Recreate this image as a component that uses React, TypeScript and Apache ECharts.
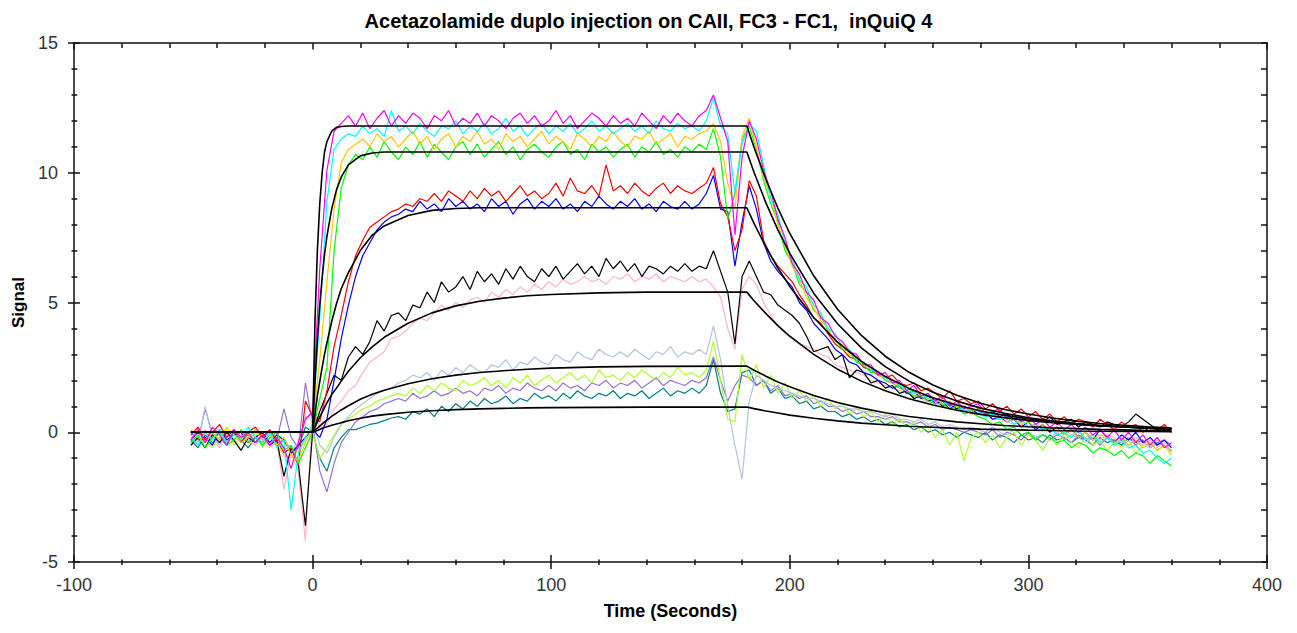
import React, { useEffect, useRef } from 'react';
import * as echarts from 'echarts';

const TITLE = 'Acetazolamide duplo injection on CAII, FC3 - FC1,  inQuiQ 4';

// sensorgram samples: every 3 s from -51 s to 360 s (138 points)
const traceTimes = Array.from({ length: 138 }, (_, i) => -51 + 3 * i);

// rows of 10 samples: -51..-24 | -21..6 | 9..36 | 39..66 | 69..96 | 99..126 | 129..156 | 159..186 | 189..216 | 219..246 | 249..276 | 279..306 | 309..336 | 339..360
const magenta = [
  -0.3, 0.1, -0.4, 0.2, -0.1, -0.5, 0.1, -0.2, 0.0, -0.4,
  -0.1, -0.5, -0.2, -0.6, -1.4, -0.4, 0.5, 0.8, 6.3, 10.1,
  11.6, 11.9, 12.2, 11.8, 12.3, 11.7, 12.1, 12.4, 11.8, 12.2,
  11.9, 12.3, 12.1, 11.7, 12.2, 12.0, 12.4, 11.8, 12.1, 11.9,
  12.3, 11.8, 12.2, 12.0, 11.7, 12.1, 12.3, 11.9, 12.2, 11.8,
  12.0, 12.4, 11.9, 12.2, 11.7, 12.0, 12.3, 12.1, 11.8, 12.2,
  11.9, 12.1, 11.8, 12.3, 12.0, 11.7, 12.2, 11.9, 12.3, 12.0,
  11.8, 12.2, 12.4, 13.0, 12.1, 11.2, 7.6, 10.6, 12.0, 11.3,
  10.1, 9.3, 8.2, 7.5, 6.5, 6.1, 5.4, 5.1, 4.4, 4.2,
  3.7, 3.5, 3.1, 3.0, 2.6, 2.6, 2.2, 2.3, 1.9, 2.0,
  1.6, 1.8, 1.4, 1.5, 1.2, 1.4, 1.0, 1.2, 0.9, 1.0,
  1.1, 0.7, 0.8, 0.9, 0.5, 0.7, 0.4, 0.6, 0.3, 0.5,
  0.2, 0.4, 0.1, 0.3, 0.0, 0.2, -0.1, 0.1, -0.2, 0.1,
  -0.3, 0.0, -0.4, -0.1, -0.5, -0.2, -0.6, -0.4,
];

const cyan = [
  -0.2, -0.5, 0.0, -0.3, 0.1, -0.4, -0.1, -0.3, 0.2, -0.2,
  -0.4, 0.0, -0.6, -0.3, -3.0, -0.8, -0.2, 0.3, 4.4, 8.9,
  10.9, 11.3, 11.5, 11.4, 11.8, 11.5, 11.7, 11.4, 12.4, 11.6,
  11.8, 11.5, 11.9, 11.6, 11.4, 11.8, 11.7, 12.0, 11.5, 11.8,
  11.6, 11.9, 11.5, 11.7, 12.1, 11.6, 11.8, 11.4, 11.7, 11.9,
  11.5, 11.8, 11.6, 11.9, 11.5, 11.7, 12.0, 11.6, 11.8, 11.5,
  11.7, 11.9, 11.6, 11.8, 11.5, 12.0, 11.7, 11.6, 11.9, 11.7,
  11.8, 11.6, 12.0, 12.9, 11.8, 11.5, 9.2, 11.1, 11.9, 11.6,
  10.3, 9.0, 8.4, 7.3, 6.7, 5.9, 5.6, 4.9, 4.6, 4.0,
  3.8, 3.3, 3.2, 2.8, 2.7, 2.4, 2.3, 2.1, 2.0, 1.8,
  1.7, 1.5, 1.5, 1.3, 1.2, 1.2, 1.0, 1.1, 0.8, 0.9,
  0.8, 0.6, 0.7, 0.5, 0.6, 0.3, 0.5, 0.2, 0.3, 0.1,
  0.2, -0.1, 0.0, -0.2, 0.1, -0.3, -0.1, -0.4, -0.2, -0.5,
  -0.3, -0.6, -0.5, -0.8, -0.7, -1.0, -1.2, -1.0,
];

const yellow = [
  0.1, -0.2, -0.4, 0.0, -0.3, 0.2, -0.1, -0.4, -0.2, 0.1,
  -0.3, -0.1, -0.5, -0.2, -0.9, -1.1, -0.4, 0.2, 2.8, 5.8,
  8.6, 10.4, 10.9, 11.1, 11.3, 11.0, 11.5, 11.2, 11.4, 11.0,
  11.3, 11.6, 11.1, 11.4, 10.9, 11.3, 11.5, 11.0, 11.4, 11.2,
  11.6, 11.1, 11.3, 10.9, 11.5, 11.2, 11.4, 11.0, 11.3, 11.6,
  11.1, 11.4, 11.2, 10.9, 11.5, 11.3, 11.0, 11.4, 11.2, 11.6,
  11.2, 11.0, 11.4, 11.3, 11.6, 11.1, 11.3, 11.5, 11.0, 11.4,
  11.3, 11.5, 11.6, 11.9, 11.2, 9.6, 8.6, 11.4, 12.1, 11.0,
  9.8, 9.1, 8.0, 7.2, 6.4, 5.9, 5.2, 4.8, 4.3, 4.0,
  3.5, 3.4, 3.0, 2.9, 2.6, 2.5, 2.2, 2.1, 1.9, 1.8,
  1.6, 1.6, 1.4, 1.3, 1.3, 1.1, 1.2, 1.0, 1.0, 0.8,
  0.9, 0.7, 0.6, 0.7, 0.4, 0.5, 0.3, 0.4, 0.2, 0.3,
  0.1, 0.2, -0.1, 0.1, -0.2, 0.0, -0.3, -0.1, -0.2, -0.4,
  -0.2, -0.5, -0.3, -0.6, -0.4, -0.7, -0.5, -0.8,
];

const green = [
  -0.4, -0.1, -0.6, -0.2, 0.0, -0.5, -0.3, 0.1, -0.4, -0.2,
  -0.5, -0.2, 0.0, -0.7, -0.5, -1.2, -0.6, 0.0, 1.3, 2.5,
  7.0, 9.4, 10.3, 10.7, 10.5, 11.0, 10.6, 11.2, 10.8, 10.5,
  11.0, 10.7, 11.2, 10.6, 11.1, 10.8, 10.5, 11.0, 11.2, 10.7,
  11.1, 10.6, 10.9, 11.2, 10.7, 11.0, 10.5, 10.9, 11.1, 10.8,
  10.6, 11.0, 11.2, 10.7, 10.9, 10.5, 11.1, 10.8, 11.0, 10.6,
  10.9, 11.1, 10.6, 11.0, 10.8, 11.2, 10.7, 10.9, 10.6, 11.0,
  10.8, 11.1, 10.9, 11.7, 10.6, 8.2, 9.2, 11.3, 11.8, 10.9,
  9.7, 8.8, 8.1, 7.0, 6.5, 5.7, 5.4, 4.7, 4.5, 3.9,
  3.6, 3.2, 3.1, 2.7, 2.6, 2.3, 2.3, 2.0, 1.9, 1.7,
  1.6, 1.4, 1.4, 1.2, 1.1, 1.1, 0.9, 1.0, 0.7, 0.8,
  0.6, 0.5, 0.3, 0.4, 0.1, 0.2, -0.1, 0.0, -0.3, -0.1,
  -0.2, -0.4, -0.3, -0.6, -0.4, -0.5, -0.8, -0.6, -0.7, -0.9,
  -0.7, -1.0, -0.8, -0.9, -1.2, -0.9, -1.1, -1.3,
];

const red = [
  -0.1, 0.2, -0.3, 0.0, 0.3, -0.2, 0.1, -0.4, 0.0, 0.2,
  -0.2, 0.1, -0.3, -0.8, -0.6, -1.3, 1.2, 0.6, 0.4, 1.6,
  3.3, 4.5, 5.8, 6.8, 7.4, 7.9, 8.1, 8.3, 8.5, 8.6,
  8.8, 8.7, 9.0, 8.9, 9.2, 8.9, 9.3, 9.1, 8.9, 9.3,
  9.0, 9.4, 9.1, 9.3, 8.9, 9.2, 9.5, 9.1, 9.3, 9.0,
  9.2, 9.6, 9.1, 9.8, 9.3, 9.2, 9.5, 9.1, 10.3, 9.3,
  9.5, 9.2, 9.6, 9.3, 9.1, 9.4, 9.6, 9.2, 9.5, 9.3,
  9.2, 9.4, 9.6, 10.2, 8.8, 8.3, 7.0, 7.8, 9.7, 9.1,
  7.4, 6.8, 6.4, 6.1, 5.8, 5.3, 4.9, 4.4, 4.2, 3.8,
  3.4, 3.2, 2.9, 2.8, 2.5, 2.4, 2.2, 2.1, 2.2, 1.9,
  1.8, 1.9, 1.6, 1.7, 1.5, 1.3, 1.6, 1.2, 1.3, 1.1,
  1.2, 0.9, 1.1, 0.8, 1.0, 0.7, 0.9, 0.6, 0.8, 0.5,
  0.7, 0.4, 0.6, 0.3, 0.5, 0.4, 0.2, 0.5, 0.3, 0.1,
  0.4, 0.2, 0.3, 0.0, 0.2, 0.1, 0.3, 0.0,
];

const blue = [
  -0.3, 0.0, -0.2, -0.5, 0.1, -0.3, -0.1, 0.0, -0.4, -0.2,
  0.0, -0.4, -0.1, -0.3, -0.8, -0.5, -0.2, 0.1, -0.2, 0.5,
  2.0, 3.6, 4.9, 6.0, 6.8, 7.3, 7.8, 8.1, 8.3, 8.4,
  8.6, 8.5, 8.9, 8.6, 8.8, 8.5, 9.0, 8.7, 8.9, 8.6,
  8.8, 8.5, 9.0, 8.7, 8.9, 8.4, 8.8, 9.0, 8.6, 8.9,
  8.7, 9.0, 8.6, 8.8, 8.5, 8.9, 8.7, 9.1, 8.8, 8.6,
  8.9, 8.7, 9.0, 8.6, 8.8, 8.5, 8.9, 8.7, 8.6, 8.9,
  8.6, 8.8, 9.2, 9.9, 8.6, 8.5, 6.4, 8.1, 9.5, 8.6,
  7.3, 6.6, 6.2, 5.9, 5.6, 5.0, 4.7, 4.2, 3.9, 3.6,
  3.2, 3.0, 2.7, 2.6, 2.3, 2.2, 2.0, 1.9, 1.7, 1.8,
  1.5, 1.6, 1.3, 1.4, 1.1, 1.2, 0.9, 1.1, 0.8, 0.9,
  0.7, 0.8, 0.5, 0.6, 0.4, 0.5, 0.2, 0.4, 0.1, 0.3,
  0.0, 0.2, -0.1, 0.1, -0.2, 0.0, -0.3, 0.1, -0.2, -0.4,
  -0.1, -0.3, 0.0, -0.4, -0.2, -0.5, -0.3, -0.6,
];

const black = [
  -0.5, -0.2, -0.6, -0.1, -0.4, 0.0, -0.3, -0.7, -0.2, -0.4,
  -0.1, -0.5, -0.3, -1.7, -0.6, -1.2, -3.6, 0.0, 0.8, 1.5,
  2.2, 2.0, 2.9, 3.3, 3.0, 3.5, 4.3, 3.9, 4.5, 4.6,
  4.3, 4.9, 4.8, 5.4, 5.0, 5.8, 5.4, 5.6, 6.0, 5.5,
  6.2, 5.8, 6.1, 5.7, 6.3, 5.9, 6.4, 6.0, 5.8, 6.3,
  6.0, 6.4, 5.9, 6.2, 6.5, 6.1, 6.4, 6.0, 6.7, 6.3,
  6.6, 6.2, 6.5, 6.0, 6.4, 6.3, 6.1, 6.4, 6.2, 6.5,
  6.2, 6.4, 6.3, 7.0, 6.2, 5.4, 3.4, 6.0, 6.6, 6.0,
  5.4, 5.3, 4.9, 4.7, 4.5, 4.2, 3.7, 3.1, 3.2, 3.3,
  2.8, 3.0, 2.1, 2.4, 2.3, 1.9, 2.0, 1.7, 1.8, 1.5,
  1.6, 1.3, 1.4, 1.2, 1.3, 1.0, 1.1, 0.9, 1.0, 0.8,
  0.9, 0.7, 0.8, 0.6, 0.7, 0.5, 0.6, 0.4, 0.5, 0.4,
  0.6, 0.3, 0.4, 0.5, 0.2, 0.4, 0.3, 0.2, 0.4, 0.3,
  0.2, 0.4, 0.7, 0.5, 0.3, 0.1, 0.2, 0.0,
];

const pink = [
  -0.2, -0.5, 0.1, -0.3, -0.6, -0.1, -0.4, 0.0, -0.3, -0.5,
  -0.2, -0.6, -0.4, -2.2, -0.8, -1.5, -4.2, 1.0, 0.2, 0.3,
  0.9, 1.2, 1.6, 1.8, 2.3, 2.7, 2.9, 3.1, 3.6, 3.7,
  3.9, 4.2, 4.4, 4.3, 4.6, 4.9, 4.7, 5.0, 4.8, 5.1,
  5.2, 5.0, 5.4, 5.2, 5.5, 5.3, 5.6, 5.4, 5.7, 5.5,
  5.8, 5.6, 5.9, 5.7, 5.8, 6.0, 5.8, 5.9, 5.7, 6.0,
  5.9, 6.1, 5.8, 6.0, 5.9, 6.1, 5.8, 6.0, 5.9, 5.8,
  6.0, 5.8, 5.9, 5.6, 5.2, 4.0, 3.2, 5.5, 6.0, 5.7,
  5.0, 4.5, 4.1, 3.8, 3.6, 3.4, 3.3, 3.2, 3.0, 2.9,
  2.6, 2.5, 2.4, 2.3, 2.2, 2.0, 1.9, 1.8, 1.7, 1.6,
  1.5, 1.4, 1.3, 1.1, 1.2, 1.0, 0.9, 0.9, 0.8, 0.7,
  0.7, 0.6, 0.5, 0.5, 0.4, 0.3, 0.4, 0.2, 0.3, 0.1,
  0.2, 0.0, 0.1, -0.1, 0.0, -0.2, -0.1, -0.3, -0.1, -0.2,
  -0.4, -0.2, -0.3, -0.5, -0.3, -0.6, -0.4, -0.5,
];

const steelBlue = [
  -0.1, -0.4, 1.0, -0.2, -0.5, 0.0, -0.3, -0.1, -0.4, 0.1,
  -0.3, -0.1, -0.5, -0.2, -0.7, -0.4, 0.6, 0.5, -0.5, -0.8,
  -0.2, 0.3, 0.6, 0.9, 1.1, 1.3, 1.5, 1.6, 1.7, 1.9,
  2.0, 2.2, 2.1, 2.3, 2.0, 2.4, 2.2, 2.5, 2.3, 2.6,
  2.4, 2.3, 2.6, 2.5, 2.8, 2.4, 2.7, 2.6, 2.9, 2.7,
  2.6, 3.0, 2.8, 2.7, 3.1, 2.9, 2.8, 3.2, 3.0, 2.9,
  3.1, 2.9, 3.2, 3.0, 2.8, 3.1, 3.0, 3.3, 2.9, 3.1,
  3.0, 3.2, 3.0, 4.1, 2.8, 1.0, -0.5, -1.8, 1.2, 2.2,
  2.0, 1.8, 1.7, 1.6, 1.5, 1.4, 1.3, 1.3, 1.2, 1.1,
  1.0, 1.0, 0.9, 0.9, 0.8, 0.8, 0.7, 0.6, 0.7, 0.5,
  0.5, 0.4, 0.5, 0.3, 0.4, 0.2, 0.3, 0.2, 0.1, 0.2,
  0.1, 0.0, 0.2, 0.0, -0.1, 0.1, -0.1, 0.0, -0.2, -0.1,
  -0.2, 0.0, -0.3, -0.1, -0.2, -0.4, -0.2, -0.3, -0.1, -0.4,
  -0.3, -0.5, -0.2, -0.4, -0.6, -0.3, -0.5, -0.7,
];

const greenYellow = [
  -0.4, 0.0, -0.3, -0.6, -0.2, 0.1, -0.5, -0.2, -0.4, 0.0,
  -0.6, -0.2, -0.4, -0.9, -1.0, -0.7, -0.3, 0.0, -1.0, -0.6,
  -0.1, 0.3, 0.5, 0.7, 0.9, 1.0, 1.2, 1.3, 1.4, 1.5,
  1.4, 1.7, 1.5, 1.8, 1.6, 1.9, 1.7, 1.6, 2.0, 1.8,
  1.9, 2.1, 1.8, 2.0, 1.7, 2.1, 1.9, 2.2, 1.8, 2.0,
  2.2, 1.9, 2.1, 2.3, 2.0, 2.2, 1.9, 2.4, 2.1, 2.2,
  2.0, 2.3, 2.1, 2.4, 2.2, 2.0, 2.3, 2.1, 2.5, 2.2,
  2.3, 2.1, 2.4, 3.5, 2.0, 0.5, 0.4, 3.0, 2.0, 2.6,
  1.7, 2.2, 1.5, 1.9, 1.3, 1.6, 1.2, 1.4, 1.0, 1.3,
  0.9, 1.1, 0.7, 0.9, 0.6, 0.8, 0.4, 0.7, 0.3, 0.5,
  0.2, 0.4, 0.0, 0.3, -0.2, 0.1, -0.5, 0.0, -1.1, -0.2,
  0.0, -0.4, -0.1, -0.6, -0.2, 0.0, -0.5, -0.1, -0.3, -0.7,
  -0.2, -0.5, 0.0, -0.4, -0.6, -0.2, -0.5, -0.3, -0.7, -0.4,
  -0.6, -0.3, -0.8, -0.5, -0.4, -0.7, -0.5, -0.9,
];

const purple = [
  0.0, -0.3, 0.9, -0.1, -0.4, -0.2, 0.1, -0.3, -0.1, -0.4,
  -0.2, 0.0, -0.3, 0.9, -0.2, -0.6, 1.9, 0.3, -1.5, -2.3,
  -1.2, -0.4, 0.0, 0.4, 0.6, 0.8, 0.9, 1.1, 1.2, 1.3,
  1.2, 1.5, 1.3, 1.4, 1.6, 1.4, 1.5, 1.7, 1.5, 1.6,
  1.4, 1.7, 1.6, 1.8, 1.5, 1.7, 1.6, 1.9, 1.7, 1.6,
  1.8, 1.6, 1.9, 1.7, 1.8, 1.6, 1.9, 1.8, 2.0, 1.7,
  1.9, 1.8, 2.0, 1.7, 1.9, 2.1, 1.8, 2.0, 1.9, 1.8,
  2.0, 1.9, 2.1, 2.9, 2.0, 1.2, 1.8, 2.2, 2.1, 1.8,
  2.0, 1.6, 1.8, 1.4, 1.5, 1.3, 1.4, 1.1, 1.2, 1.0,
  1.0, 0.8, 0.9, 0.7, 0.8, 0.6, 0.6, 0.5, 0.6, 0.4,
  0.4, 0.3, 0.4, 0.2, 0.3, 0.1, 0.2, 0.1, 0.0, 0.1,
  0.0, -0.1, 0.1, -0.2, 0.0, -0.1, -0.3, 0.0, -0.2, -0.1,
  -0.3, -0.1, -0.2, -0.4, -0.1, -0.3, -0.2, -0.5, -0.2, -0.3,
  -0.4, -0.2, -0.5, -0.3, -0.6, -0.4, -0.3, -0.5,
];

const teal = [
  -0.3, -0.6, -0.1, -0.4, -0.2, -0.5, 0.0, -0.3, -0.6, -0.2,
  -0.4, -0.1, -0.5, -0.3, -0.8, -0.6, 0.2, 0.0, -1.0, -1.5,
  -0.6, -0.2, 0.1, 0.1, 0.2, 0.3, 0.35, 0.45, 0.55, 0.6,
  0.5, 0.8, 0.7, 0.9, 0.6, 1.0, 0.8, 1.1, 0.9, 1.2,
  1.0, 1.3, 1.1, 1.2, 1.4, 1.1, 1.3, 1.2, 1.5, 1.3,
  1.4, 1.2, 1.5, 1.3, 1.6, 1.4, 1.3, 1.5, 1.4, 1.6,
  1.3, 1.5, 1.4, 1.6, 1.3, 1.5, 1.7, 1.4, 1.6, 1.5,
  1.7, 1.5, 1.8, 2.8, 1.5, 0.8, 0.9, 2.3, 2.4, 1.8,
  2.0, 1.5, 1.7, 1.3, 1.4, 1.1, 1.2, 0.9, 1.0, 0.8,
  0.8, 0.6, 0.7, 0.5, 0.6, 0.4, 0.5, 0.3, 0.4, 0.2,
  0.3, 0.1, 0.2, 0.0, 0.1, -0.1, 0.0, -0.2, 0.0, -0.1,
  -0.2, 0.0, -0.3, -0.1, -0.2, -0.4, -0.1, -0.3, -0.2, -0.4,
  -0.1, -0.3, -0.2, -0.4, -0.2, -0.3, -0.5, -0.2, -0.4, -0.3,
  -0.5, -0.2, -0.4, -0.3, -0.6, -0.4, -0.5, -0.7,
];

const traces = [
  { name: 'teal', color: '#008080', values: teal },
  { name: 'purple', color: '#9370db', values: purple },
  { name: 'greenYellow', color: '#adff2f', values: greenYellow },
  { name: 'steelBlue', color: '#b0c4de', values: steelBlue },
  { name: 'pink', color: '#ffb6c1', values: pink },
  { name: 'black', color: '#000000', values: black },
  { name: 'blue', color: '#0000ff', values: blue },
  { name: 'red', color: '#ff0000', values: red },
  { name: 'green', color: '#00ff00', values: green },
  { name: 'yellow', color: '#ffc800', values: yellow },
  { name: 'cyan', color: '#00ffff', values: cyan },
  { name: 'magenta', color: '#ff00ff', values: magenta },
];

// fitted curves, sampled at these times
const fitTimes = [
  -51, 0, 1, 2, 3, 4, 5, 6, 8, 10,
  12, 15, 20, 25, 30, 40, 50, 60, 70, 80,
  90, 100, 120, 140, 182, 185, 190, 195, 200, 210,
  220, 230, 240, 250, 260, 270, 280, 290, 300, 310,
  320, 330, 340, 350, 360,
];

const fit1 = [
  0, 0, 4.3, 7.0, 8.8, 10.0, 10.8, 11.2, 11.6, 11.75,
  11.78, 11.8, 11.8, 11.8, 11.8, 11.8, 11.8, 11.8, 11.8, 11.8,
  11.8, 11.8, 11.8, 11.8, 11.8, 10.98, 9.74, 8.64, 7.66, 6.03,
  4.74, 3.73, 2.93, 2.31, 1.82, 1.43, 1.12, 0.88, 0.7, 0.55,
  0.43, 0.34, 0.27, 0.21, 0.16,
];
const fit2 = [
  0, 0, 1.95, 3.56, 4.9, 5.95, 6.85, 7.55, 8.6, 9.34,
  9.83, 10.3, 10.65, 10.76, 10.8, 10.8, 10.8, 10.8, 10.8, 10.8,
  10.8, 10.8, 10.8, 10.8, 10.8, 10.02, 8.84, 7.8, 6.89, 5.36,
  4.18, 3.25, 2.53, 1.97, 1.54, 1.2, 0.93, 0.73, 0.56, 0.44,
  0.34, 0.27, 0.21, 0.16, 0.13,
];
const fit3 = [
  0, 0, 0.7, 1.4, 1.95, 2.5, 3.0, 3.45, 4.26, 4.95,
  5.53, 6.15, 7.0, 7.6, 7.95, 8.35, 8.55, 8.62, 8.65, 8.65,
  8.65, 8.65, 8.65, 8.65, 8.65, 8.05, 7.14, 6.33, 5.62, 4.42,
  3.47, 2.73, 2.15, 1.69, 1.33, 1.05, 0.82, 0.65, 0.51, 0.4,
  0.32, 0.25, 0.2, 0.15, 0.12,
];
const fit4 = [
  0, 0, 0.2, 0.4, 0.59, 0.77, 0.95, 1.13, 1.45, 1.7,
  1.97, 2.35, 2.87, 3.29, 3.66, 4.2, 4.6, 4.87, 5.05, 5.17,
  5.26, 5.31, 5.37, 5.4, 5.4, 5.07, 4.57, 4.11, 3.7, 3.0,
  2.43, 1.97, 1.6, 1.29, 1.05, 0.85, 0.69, 0.56, 0.45, 0.37,
  0.3, 0.24, 0.2, 0.16, 0.13,
];
const fit5 = [
  0, 0, 0.08, 0.16, 0.24, 0.32, 0.4, 0.47, 0.61, 0.74,
  0.86, 1.02, 1.27, 1.46, 1.62, 1.87, 2.06, 2.2, 2.3, 2.37,
  2.43, 2.47, 2.52, 2.54, 2.55, 2.39, 2.16, 1.94, 1.75, 1.42,
  1.15, 0.93, 0.75, 0.61, 0.5, 0.4, 0.33, 0.26, 0.21, 0.17,
  0.14, 0.11, 0.09, 0.07, 0.06,
];
const fit6 = [
  0, 0, 0.04, 0.07, 0.11, 0.15, 0.18, 0.21, 0.27, 0.32,
  0.37, 0.44, 0.54, 0.62, 0.68, 0.77, 0.83, 0.87, 0.9, 0.92,
  0.94, 0.95, 0.96, 0.97, 0.97, 0.91, 0.82, 0.74, 0.66, 0.54,
  0.44, 0.35, 0.29, 0.23, 0.19, 0.15, 0.12, 0.1, 0.08, 0.07,
  0.05, 0.04, 0.035, 0.03, 0.02,
];
const fits = [fit1, fit2, fit3, fit4, fit5, fit6];

const FONT = "'Liberation Sans', Arial, sans-serif";
const axisStroke = { color: '#111', width: 1.5 };

const App: React.FC = () => {
  const chartRef = useRef<HTMLDivElement>(null);

  useEffect(() => {
    if (!chartRef.current) return;
    const chart = echarts.init(chartRef.current, undefined, { renderer: 'svg' });

    const xBase = {
      type: 'value',
      min: -100,
      max: 400,
      interval: 100,
      splitLine: { show: false },
    };
    const yBase = {
      type: 'value',
      min: -5,
      max: 15,
      interval: 5,
      splitLine: { show: false },
    };

    const option = {
      animation: false,
      backgroundColor: '#fff',
      title: {
        text: TITLE,
        left: 'center',
        top: 6,
        textStyle: { fontSize: 20, fontWeight: 'bold', fontFamily: FONT, color: '#000' },
      },
      grid: {
        left: 74,
        right: 30,
        top: 43,
        bottom: 71,
        containLabel: false,
        outerBoundsMode: 'none',
      },
      xAxis: [
        {
          ...xBase,
          position: 'bottom',
          axisLine: { show: true, onZero: false, lineStyle: axisStroke },
          axisTick: { show: true, length: 7, lineStyle: axisStroke },
          minorTick: { show: true, splitNumber: 5, length: 3, lineStyle: axisStroke },
          axisLabel: { margin: 14, fontSize: 18, color: '#333', fontFamily: FONT },
          name: 'Time (Seconds)',
          nameLocation: 'middle',
          nameGap: 40,
          nameMoveOverlap: false,
          nameTextStyle: { fontSize: 18, fontWeight: 'bold', color: '#000', fontFamily: FONT },
        },
        {
          ...xBase,
          position: 'bottom',
          axisLine: { show: false, onZero: false },
          axisTick: { show: true, inside: true, length: 7, lineStyle: axisStroke },
          minorTick: { show: true, splitNumber: 5, length: 2.5, lineStyle: axisStroke },
          axisLabel: { show: false },
        },
        {
          ...xBase,
          position: 'top',
          axisLine: { show: true, onZero: false, lineStyle: axisStroke },
          axisTick: { show: true, inside: true, length: 6.5, lineStyle: axisStroke },
          minorTick: { show: true, splitNumber: 5, length: 5, lineStyle: axisStroke },
          axisLabel: { show: false },
        },
      ],
      yAxis: [
        {
          ...yBase,
          position: 'left',
          axisLine: { show: true, onZero: false, lineStyle: axisStroke },
          axisTick: { show: true, length: 6, lineStyle: axisStroke },
          minorTick: { show: true, splitNumber: 5, length: 2.5, lineStyle: axisStroke },
          axisLabel: { margin: 16, fontSize: 18, color: '#333', fontFamily: FONT },
          name: 'Signal',
          nameLocation: 'middle',
          nameGap: 47,
          nameRotate: 90,
          nameMoveOverlap: false,
          nameTextStyle: { fontSize: 17, fontWeight: 'bold', color: '#000', fontFamily: FONT },
        },
        {
          ...yBase,
          position: 'left',
          axisLine: { show: false, onZero: false },
          axisTick: { show: true, inside: true, length: 6, lineStyle: axisStroke },
          minorTick: { show: true, splitNumber: 5, length: 3.3, lineStyle: axisStroke },
          axisLabel: { show: false },
        },
        {
          ...yBase,
          position: 'right',
          axisLine: { show: true, onZero: false, lineStyle: axisStroke },
          axisTick: { show: true, inside: true, length: 6, lineStyle: axisStroke },
          minorTick: { show: true, splitNumber: 5, length: 6, lineStyle: axisStroke },
          axisLabel: { show: false },
        },
      ],
      series: [
        ...traces.map((tr) => ({
          name: tr.name,
          type: 'line',
          xAxisIndex: 0,
          yAxisIndex: 0,
          symbol: 'none',
          silent: true,
          z: 2,
          lineStyle: { color: tr.color, width: 1.2 },
          data: traceTimes.map((t, i) => [t, tr.values[i]]),
        })),
        ...fits.map((f, n) => ({
          name: `fit${n + 1}`,
          type: 'line',
          xAxisIndex: 0,
          yAxisIndex: 0,
          symbol: 'none',
          silent: true,
          z: 3,
          lineStyle: { color: '#000', width: 1.6 },
          data: fitTimes.map((t, i) => [t, f[i]]),
        })),
      ],
    };

    chart.setOption(option as any);

    return () => {
      chart.dispose();
    };
  }, []);

  return (
    <div
      ref={chartRef}
      style={{
        position: 'fixed',
        left: 0,
        top: 0,
        width: '1297px',
        height: '633px',
        background: '#fff',
      }}
    />
  );
};

export default App;
